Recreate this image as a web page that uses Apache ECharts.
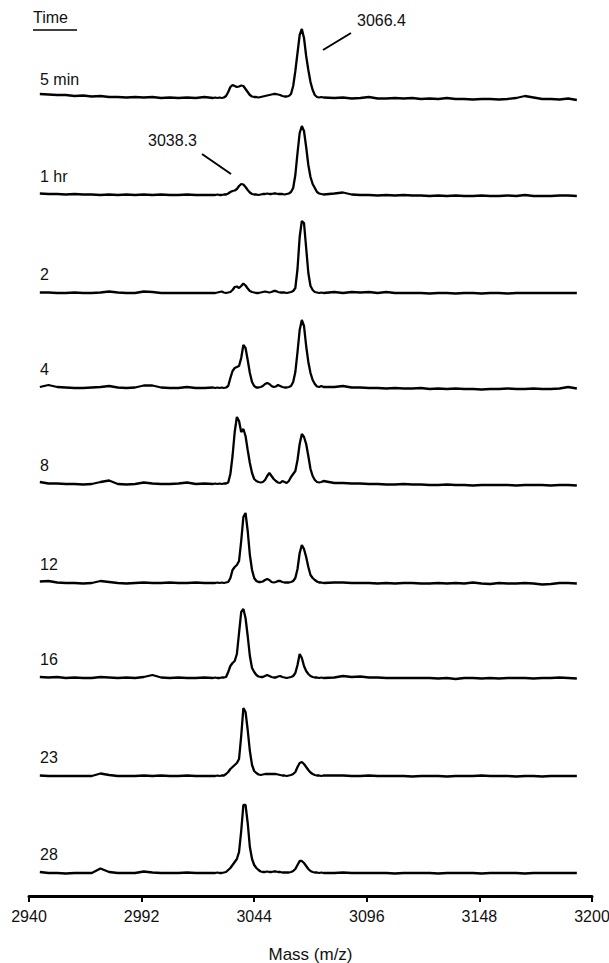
<!DOCTYPE html>
<html><head><meta charset="utf-8">
<script src="https://cdn.jsdelivr.net/npm/echarts@6/dist/echarts.min.js"></script>
<style>html,body{margin:0;padding:0;background:#fff}#c{width:609px;height:963px}</style>
</head><body><div id="c"></div>
<script>
// ---- DATA ----
const masses = [2945,2949,2953,2957,2961,2965,2969,2973,2977,2981,2985,2989,2993,2997,3001,3005,3009,3013,3017,3021,3025,
  3026,3027,3028,3029,3030,3031,3032,3033,3034,3035,3036,3037,3038,3039,3040,3041,3042,3043,3044,3045,
  3046,3047,3048,3049,3050,3051,3052,3053,3054,3055,3056,3057,3058,3059,3060,3061,3062,3063,3064,3065,
  3066,3067,3068,3069,3070,3071,3072,3073,3074,3075,3076,
  3081,3085,3089,3093,3097,3101,3105,3109,3113,3117,3121,3125,3129,3133,3137,3141,3145,3149,3153,3157,
  3161,3165,3169,3173,3177,3181,3185,3189,3193];

const timeLabels = ['5 min','1 hr','2','4','8','12','16','23','28'];

const int5min = [4,3.5,3,3,2,2.5,1.5,2,1,1,0.5,1,0.5,1,0,0.5,0,0.5,0,1,0,
  0.5,0,0.5,0,0.5,2,6,11,13,12,11,11.5,12.5,12,9,6,3,1.5,1,1,0.5,1,1.5,2,2.5,3,3.5,4,4,3.5,3,2,1.5,1.5,2,4,12,27,45,63,69,60,42,28,16,8,3,1,0.5,1,0.5,
  0,0.5,-0.5,0,1,-0.5,-0.5,0,-0.5,0,-1,-0.5,-1,0,-1,-1,-1.5,-1,-1,-1.5,-1,0,2,0.5,-1,-1,-1.5,-0.5,-2];
const int1hr = [1.5,1,1,0.5,1,0.5,0.5,0,0.5,0,0.5,0,0.5,0,0.5,0,0,0.5,0,0,0,
  0,0.5,0,0,0.5,0.5,1.5,3,4,4.5,6,9,11,10.5,8,5,2.5,1,0.5,0.5,0,0.5,1,1,1.5,1,1,1.5,1.5,1,1,1,0.5,1,1.5,3,7,20,42,62,69,64,48,30,18,11,7,3,1.5,1,0.5,
  1.5,2.5,0.5,0,0,-0.5,0,-0.5,0,-0.5,-0.5,-1,-0.5,-1,-0.5,-1,-1,-0.5,-1,-1,-0.5,-1,0,-1,-1,-1,-0.5,-0.5,-1];
const int2hr = [0.5,0.5,0,0,0.5,0,0,0.5,1.5,0.5,0,0,1.5,1,0,0,0,0,0,0,0,
  0,0.5,1,1.5,0.5,0,0.5,1,3,6,6.5,5,7,9.5,7.5,4.5,2,1,0.5,0,0,0.5,1,1.5,1,0.5,1,2,2,1,0.5,0.5,0.5,0,0.5,1,2,5,24,56,72,70,45,20,7,3,1,0.5,0,0.5,0,
  1,0,1,0.5,1,0,1,0,0,0,0,-0.5,0,0,-0.5,0,0,-0.5,0,0,-0.5,0,0,0,0,0,0,0,0];
const int4hr = [1,3,1,0.5,0,0,0.5,1,2,0.5,0,0.5,2.5,2.5,0.5,0,0,1,0,0,0.5,
  0,0.5,0,0.5,0,0.5,2,10,17,20,21,22,30,43,40,28,15,6,2,0.5,0.5,1,2,4,5,4,2,1,1.5,3,2,1,0.5,0.5,1,2,6,16,36,58,68,62,42,26,15,8,4,1.5,1,2,1,
  1,2,0.5,0.5,0,0,-0.5,0,-0.5,-0.5,0,-1,-0.5,-1,-0.5,-1,-1,-1.5,-1,-1,-0.5,-1,-1,-0.5,-1,-1,-0.5,1,-0.5];
const int8hr = [2,0.5,0.5,0,0,-0.5,0,2,3.5,0,-0.5,0,1.5,0.5,0,0,0.5,1.5,0,0.5,0,
  0.5,0,0.5,0,0.5,0.5,1.5,10,28,52,67,63,52,55,48,34,21,11,5,3,2,1.5,2,4,8,11,8,5,3,1.5,1,3,2,1,3,7,10,13,24,40,50,47,40,28,15,8,4,2,1.5,2,3,
  1,1,0.5,0.5,0,0,-0.5,-0.5,0,-0.5,-0.5,-1,-1,-0.5,-1,-1,-1.5,-1,-1,-1,-1,-1.5,-1,-1,-1,-1.5,-1,-1,-1.5];
const int12hr = [1.5,2,0.5,0,0,-0.5,0,2,1,0,-0.5,0,0.5,0,0,0.5,0,0,0.5,0,0,
  0,0.5,0,0.5,0,0.5,1,5,13,16,18,22,42,66,70,52,28,13,5,2,1,1,1.5,3,4,3,1,0.5,1,2,2,1,0.5,0.5,0.5,1,2,5,14,30,38,34,26,16,8,5,3,1.5,0.5,0.5,0,
  0.5,0.5,0,0,0,-0.5,0,-0.5,0,0,-0.5,-0.5,0,-0.5,0,-0.5,0.5,-0.5,-1,0,-0.5,-0.5,0,-0.5,-1.5,-1,0,0,-0.5];
const int16hr = [1,0.5,1,0,0.5,0,0,1,0.5,0,0.5,0,1,3,0.5,0,0.5,0,0,0.5,0,
  0.5,0,0,0.5,0.5,1,6,12,15,17,24,45,66,69,60,42,22,10,6,3,1.5,1,1,2,3,2,1,0.5,0.5,1.5,2,1,0.5,0,0.5,1,2,5,13,24,20,12,7,4,2,1,0.5,0.5,0,0.5,0,
  0.5,2,1,1.5,0.5,0.5,0,0,0,0,0,0,-0.5,0,-1,0,0,-0.5,0,-0.5,0,0,0,-0.5,0,0,0.5,0,-0.5];
const int23hr = [0.5,0,0,0,0,0,0,2.5,1,0,0,0,0.5,0,0.5,0,0,0.5,0,0,0,
  0,0.5,0,0.5,0.5,2,4,7,9,11,13,17,40,68,64,46,25,11,5,3,1.5,1,1.5,2,2,2,2,2,2,1.5,1,0.5,0.5,0,0.5,1,2,4,9,13,14,12,9,6,3.5,2,1,0.5,0.5,0,0.5,
  0.5,0.5,0,0,0.5,0,0,0,0,-0.5,0,0,0,-0.5,0,0,0,0.5,0,0,0,-0.5,0,0,-0.5,0,0,0,0];
const int28hr = [1,0,0,-0.5,0,0,0,4.5,1,0,0,0,1.5,0.5,0,0,0,0.5,0,0,0,
  0,0.5,0,0,0.5,1,3,5,8,11,14,21,42,68,68,50,26,14,8,5,3,1.5,1,1,1.5,1,1,1.5,1.5,1,1,0.5,0.5,0.5,0.5,1,2,4,8,12,12,10,7,4,2,1,0.5,0.5,0,0.5,0,
  0,0.5,0,0,0,0,0,-0.5,0,0,0,0,-0.5,0,0,0,0,-0.5,0,0,0,0,-0.5,0,0,0,0,0,0];

const tickValues = [2940,2992,3044,3096,3148,3200];
const peakLabels = ['3066.4','3038.3'];
const timeTitle = 'Time';
const axisName = 'Mass (m/z)';

// ---- LAYOUT ----
const traces = [int5min,int1hr,int2hr,int4hr,int8hr,int12hr,int16hr,int23hr,int28hr];
const baselines = [98,195,293,388,484,583,678,776,873];
const FONT = 'Arial, "Liberation Sans", sans-serif';
const INK = '#111';

const grids=[], xAxes=[], yAxes=[], series=[], graphics=[];
traces.forEach((t,i)=>{
  const last = i === traces.length-1;
  grids.push({left:29, right:17, top: baselines[i]-75, height:80, containLabel:false, outerBoundsMode:'none'});
  xAxes.push({
    type:'value', gridIndex:i, min:2940, max:3200, show:last,
    position:'bottom', offset: last ? 18 : 0,
    splitLine:{show:false},
    axisLine:{show:true, onZero:false, lineStyle:{color:'#000', width:3, cap:'round'}},
    axisTick:{show:true, length:6, customValues: tickValues, lineStyle:{color:'#000', width:2}},
    axisLabel:{show:true, customValues: tickValues, formatter: v => String(v), color:INK, fontSize:16, fontFamily:FONT, margin:12},
    name: last ? axisName : '', nameLocation:'middle', nameGap:50,
    nameTextStyle:{color:INK, fontSize:17, fontFamily:FONT}
  });
  yAxes.push({type:'value', gridIndex:i, min:-5, max:75, show:false, splitLine:{show:false}});
  series.push({
    type:'line', xAxisIndex:i, yAxisIndex:i, name: timeLabels[i],
    data: masses.map((m,k)=>[m, t[k]]),
    showSymbol:false, symbol:'none', silent:true,
    lineStyle:{color:'#000', width:2.3}
  });
  graphics.push({type:'text', x:40, y:baselines[i]-19,
    style:{text: timeLabels[i], fill:INK, fontSize:16, fontFamily:FONT, verticalAlign:'middle', align:'left'}});
});

graphics.push({type:'text', x:33, y:17, style:{text: timeTitle, fill:INK, fontSize:16, fontFamily:FONT, verticalAlign:'middle', align:'left'}});
graphics.push({type:'line', shape:{x1:33,y1:30,x2:77,y2:30}, style:{stroke:'#000', lineWidth:1.5}});
graphics.push({type:'text', x:357, y:20, style:{text: peakLabels[0], fill:INK, fontSize:16, fontFamily:FONT, verticalAlign:'middle', align:'left'}});
graphics.push({type:'line', shape:{x1:323,y1:50,x2:351,y2:33}, style:{stroke:'#000', lineWidth:2}});
graphics.push({type:'text', x:197, y:140, style:{text: peakLabels[1], fill:INK, fontSize:16, fontFamily:FONT, verticalAlign:'middle', align:'right'}});
graphics.push({type:'line', shape:{x1:202,y1:154,x2:231,y2:174}, style:{stroke:'#000', lineWidth:2}});

const chart = echarts.init(document.getElementById('c'), null, {renderer:'svg'});
chart.setOption({
  animation:false,
  backgroundColor:'#fff',
  grid: grids, xAxis: xAxes, yAxis: yAxes, series: series, graphic: graphics
});
</script>
</body></html>
